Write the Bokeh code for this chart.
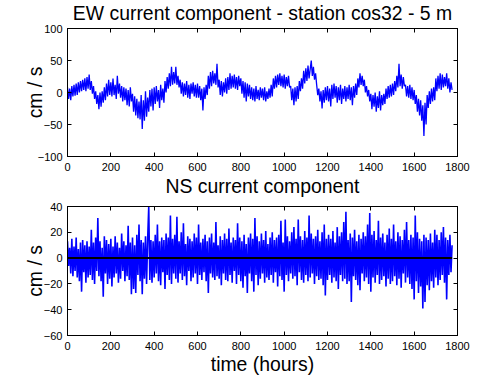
from bokeh.plotting import figure
from bokeh.layouts import column
from bokeh.models import LinearAxis, FixedTicker, Range1d, CustomJSTickFormatter, Title
from bokeh.embed import file_html
from bokeh.resources import INLINE

# ---------------- data (one value every 5 hours) ----------------
time_step_hours = 5

ew_current = [
    8, -10, 6, -12, 10, -6, 12, -5, 14, -4, 16, 0, 18, 2, 20, 4, 22, 2, 24, 6,
    28, 4, 18, -2, 10, -10, 2, -18, -4, -26, 0, -22, 2, -16, 8, -12, 14, -6, 20, -4,
    16, -6, 22, -4, 12, -10, 26, -2, 14, -8, 10, -14, 8, -12, 6, -20, 4, -22, 8, -14,
    -2, -30, -6, -36, -10, -40, -14, -42, -4, -57, -12, -44, 2, -38, -8, -30, 4, -22, 6, -28,
    8, -18, 10, -14, 4, -24, 12, -12, 6, -16, 18, 0, 24, 6, 30, 10, 40, 12, 32, 14,
    40, 12, 26, 8, 20, -2, 16, -6, 14, -4, 18, -8, 12, -10, 14, -2, 16, -6, 12, -8,
    14, -8, 10, -12, 6, -28, 8, -10, 12, -4, 26, 6, 32, 10, 34, 14, 30, 12, 45, 8,
    20, -4, 18, -6, 16, 0, 22, -2, 24, 4, 30, 6, 26, 8, 28, 6, 24, 4, 26, 10,
    22, -2, 18, -8, 16, -14, 14, -6, 12, -10, 8, -12, 6, -14, 10, -10, 4, -12, 8, -8,
    6, -12, 8, -14, 2, -10, 6, -8, 12, -6, 22, 6, 26, 8, 28, 12, 30, 10, 26, 8,
    28, 6, 24, 10, 26, 8, 10, -12, 6, -20, 8, -14, 10, -10, 18, 2, 22, 6, 34, 14,
    38, 18, 42, 22, 36, 50, 26, 40, 20, 30, 12, -4, 6, -14, 2, -25, 4, -16, 8, -12,
    10, -14, 6, -22, 12, -10, 14, -8, 10, -16, 8, -12, 12, -18, 6, -10, 10, -14, 8, -10,
    12, -12, 8, -20, 10, -8, 14, -4, 22, 8, 30, 12, 26, 10, 20, 0, 10, -6, 4, -14,
    -2, -26, -4, -22, 0, -30, -6, -24, 2, -28, -4, -20, -2, -18, 6, -10, 10, -8, 12, -6,
    14, -4, 18, 2, 26, 8, 45, 10, 28, 6, 24, 10, 12, -6, 10, -8, 12, -10, 8, -12,
    4, -18, -4, -30, -10, -36, -12, -44, -20, -68, -16, -50, -4, -24, 2, -18, 6, -14, 8, -12,
    22, 2, 26, 6, 30, 4, 28, 8, 24, 10, 30, 6, 22, 0, 16, 4,
]

ns_current = [
    13, -6, 8, -12, 15, -14, 9, -10, 16, -15, 7, -18, 12, -26, 14, -11, 10, -19, 13, -15,
    9, -13, 22, -17, 12, -20, 16, -10, 31, -14, 13, -18, 8, -30, 17, -12, 14, -20, 11, -16,
    15, -22, 9, -15, 17, -12, 12, -19, 8, -16, 19, -10, 13, -18, 10, -14, 25, -17, 12, -28,
    16, -24, 10, -27, 18, -13, 26, -18, 14, -28, 12, -16, 17, -20, 15, 40, -17, 14, -19, 13,
    -15, 18, -12, 26, -18, 13, -21, 16, -11, 14, -24, 19, -13, 16, -17, 33, -20, 15, -12, 18,
    -16, 32, -19, 13, -12, 20, -17, 27, -14, 11, -21, 17, -10, 15, -18, 13, -15, 19, -12, 16,
    -20, 26, -13, 12, -17, 15, -11, 18, -18, 13, -27, 16, -12, 19, -15, 12, -17, 28, -14, 10,
    -16, 17, -21, 14, -12, 19, -17, 15, -18, 23, -13, 12, -19, 16, -10, 14, -20, 27, -13, 16,
    -18, 13, -23, 18, -14, 11, -27, 16, -12, 19, -18, 15, -26, 31, -13, 17, -21, 13, -16, 19,
    -12, 14, -19, 21, -15, 11, -17, 16, -13, 20, -19, 14, -11, 16, -22, 18, -14, 29, -17, 12,
    -26, 30, -13, 17, -18, 13, -12, 20, -16, 24, -14, 15, -21, 30, -11, 17, -17, 14, -19, 21,
    -13, 16, -18, 33, -15, 19, -12, 15, -20, 17, -14, 22, -17, 13, -16, 20, -21, 26, -29, 15,
    -17, 18, -13, 15, -19, 21, -15, 12, -18, 24, -24, 17, -13, 20, -18, 28, -16, 36, -20, 14,
    -18, 19, -34, 16, -14, 22, -17, 13, -21, 18, -25, 15, -12, 20, -18, 17, -15, 26, -20, 35,
    -26, 18, -15, 21, -19, 14, -13, 29, -20, 16, -17, 19, -14, 12, -22, 18, -16, 23, -20, 15,
    -18, 26, -14, 13, -21, 20, -16, 17, -23, 14, -12, 22, -19, 28, -15, 14, -20, 18, -24, 16,
    -32, 33, -18, 20, -27, 15, -22, 13, -39, 18, -34, 16, -21, 14, -25, 19, -18, 12, -23, 22,
    -15, 18, -21, 14, -17, 20, -13, 24, -19, 16, -32, 14, -13, 18, -11, 10,
]

ns_mean_level = 0.0

time_hours = [i * time_step_hours for i in range(len(ew_current))]

x_ticks = [0, 200, 400, 600, 800, 1000, 1200, 1400, 1600, 1800]
ew_ticks = [-100, -50, 0, 50, 100]
ns_ticks = [-60, -40, -20, 0, 20, 40]

title_top = "EW current component - station cos32 - 5 m"
title_bottom = "NS current component"
y_label = "cm / s"
x_label = "time (hours)"

# ---------------- styling ----------------
FONT = "Liberation Sans"
BLUE = "#0000ff"
BIG = "19.4px"


def style_title(t, standoff):
    t.text_font = FONT
    t.text_font_size = BIG
    t.text_font_style = "normal"
    t.text_color = "black"
    t.align = "center"
    t.standoff = standoff


def style_axis(ax, ticks, standoff):
    ax.ticker = FixedTicker(ticks=ticks)
    ax.major_tick_in = 4
    ax.major_tick_out = 0
    ax.minor_tick_line_color = None
    ax.axis_line_color = "black"
    ax.major_tick_line_color = "black"
    ax.major_label_text_font = FONT
    ax.major_label_text_font_size = "11px"
    ax.major_label_text_color = "black"
    ax.major_label_standoff = standoff


def blank_axis(ticks):
    return LinearAxis(
        ticker=FixedTicker(ticks=ticks),
        formatter=CustomJSTickFormatter(code="return ''"),
        major_label_text_font_size="1px",
        major_label_standoff=0,
        major_tick_in=4,
        major_tick_out=0,
        minor_tick_line_color=None,
        axis_line_color="black",
        major_tick_line_color="black",
    )


def make_fig(height, yticks, yrange, b_top, b_bottom, ylabel_standoff, xtick_standoff, xlabel=None):
    p = figure(
        width=488, height=height,
        output_backend="svg", toolbar_location=None,
        x_range=Range1d(0, 1800), y_range=Range1d(*yrange),
        min_border_left=67, min_border_right=31,
        min_border_top=b_top, min_border_bottom=b_bottom,
    )
    p.background_fill_color = "white"
    p.border_fill_color = "white"
    p.outline_line_color = "black"
    p.outline_line_alpha = 1.0
    p.xgrid.visible = False
    p.ygrid.visible = False

    style_axis(p.xaxis[0], x_ticks, xtick_standoff)
    style_axis(p.yaxis[0], yticks, 5)
    p.yaxis[0].axis_label = y_label
    p.yaxis[0].axis_label_text_font = FONT
    p.yaxis[0].axis_label_text_font_size = BIG
    p.yaxis[0].axis_label_text_font_style = "normal"
    p.yaxis[0].axis_label_text_color = "black"
    p.yaxis[0].axis_label_standoff = ylabel_standoff
    if xlabel:
        p.xaxis[0].axis_label = xlabel
        p.xaxis[0].axis_label_text_font = FONT
        p.xaxis[0].axis_label_text_font_size = BIG
        p.xaxis[0].axis_label_text_font_style = "normal"
        p.xaxis[0].axis_label_text_color = "black"
        p.xaxis[0].axis_label_standoff = 0

    p.add_layout(blank_axis(yticks), "right")
    p.add_layout(blank_axis(x_ticks), "above")
    return p


# top panel (EW), its title above and the NS title below its x axis
p1 = make_fig(207, ew_ticks, (-100, 100), 34, 45, -11, 6)
p1.title.text = title_top
style_title(p1.title, 10)
ns_title = Title(text=title_bottom)
style_title(ns_title, -1)
p1.add_layout(ns_title, "below")
p1.line(time_hours, ew_current, line_color=BLUE, line_width=1.3)

# bottom panel (NS)
p2 = make_fig(176, ns_ticks, (-60, 40), 5, 42, -5, 6, xlabel=x_label)
p2.line(time_hours, ns_current, line_color=BLUE, line_width=1.6)
p2.line(time_hours, [ns_mean_level] * len(time_hours), line_color="black", line_width=2)

layout = column(p1, p2, styles={"margin-top": "-6px"})

with open("out.html", "w") as f:
    f.write(file_html(layout, INLINE))
